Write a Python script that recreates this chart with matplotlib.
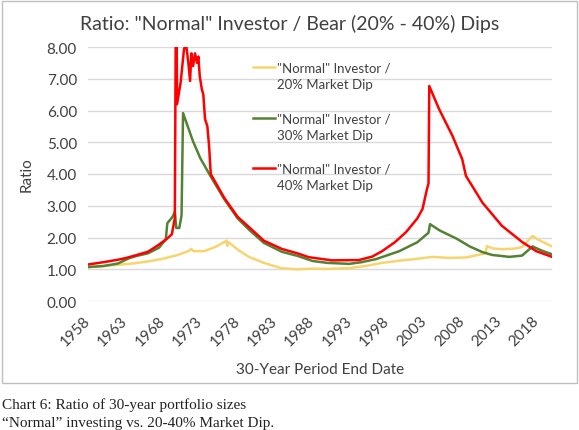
import numpy as np
import matplotlib.pyplot as plt
from matplotlib.patches import Rectangle
from matplotlib.legend_handler import HandlerLine2D

plt.rcParams['font.family'] = ['Lato', 'DejaVu Sans']

# 30-year period end dates (years) and ratios
yrs_20 = [1958.0, 1960, 1962, 1964, 1966.4, 1968, 1970, 1971.5, 1971.8, 1972.1, 1973.5, 1975,
          1976.4, 1976.5, 1976.6, 1976.8, 1978, 1979.5, 1981.5, 1983.9, 1986, 1988, 1990,
          1993, 1995, 1997.3, 2000, 2002, 2004, 2006, 2008.5, 2010.7, 2011.1, 2011.3, 2012,
          2013.3, 2015, 2016, 2017.4, 2018, 2019.9]
dip_20 = [1.07, 1.10, 1.14, 1.18, 1.26, 1.33, 1.45, 1.58, 1.64, 1.57, 1.57, 1.70,
          1.88, 1.90, 1.74, 1.85, 1.62, 1.39, 1.20, 1.03, 1.00, 1.02, 1.01,
          1.04, 1.10, 1.20, 1.28, 1.33, 1.39, 1.36, 1.37, 1.48, 1.50, 1.73, 1.66,
          1.63, 1.65, 1.70, 2.05, 1.95, 1.73]

yrs_30 = [1958.0, 1960, 1962, 1963.5, 1964.5, 1966, 1967.5, 1968.4, 1968.6, 1969.3, 1969.6,
          1969.8, 1970.2, 1970.5, 1970.7, 1972, 1973, 1974.4, 1976.2, 1978, 1979.5, 1981.5,
          1983.9, 1986, 1988, 1990, 1992.9, 1994.5, 1996.5, 1999.6, 2002, 2003.5, 2003.7,
          2005, 2007.2, 2009, 2010.7, 2012, 2014.3, 2016, 2017.4, 2018.5, 2019.9]
dip_30 = [1.07, 1.10, 1.18, 1.35, 1.42, 1.50, 1.68, 1.95, 2.45, 2.65, 2.80,
          2.30, 2.30, 2.70, 5.92, 5.05, 4.50, 3.92, 3.21, 2.60, 2.25, 1.83,
          1.55, 1.42, 1.26, 1.20, 1.17, 1.22, 1.32, 1.57, 1.85, 2.15, 2.42,
          2.22, 1.97, 1.72, 1.54, 1.45, 1.39, 1.43, 1.72, 1.60, 1.48]

yrs_40 = [1958.0, 1960, 1962, 1963, 1964.1, 1966, 1967.2, 1968.5, 1969.2, 1969.6, 1969.72,
          1969.85, 1969.9, 1970.39, 1970.83, 1971.1, 1971.41, 1971.64, 1971.81, 1972.04,
          1972.3, 1972.57, 1972.75, 1972.93, 1973.2, 1973.41, 1973.64, 1973.95, 1974.18,
          1974.4, 1976.2, 1978, 1979.5, 1981.5, 1983.9, 1986, 1987.5, 1990.6, 1994.2, 1996,
          1997.3, 1999, 2000.5, 2002, 2002.7, 2003.3, 2003.5, 2003.6, 2004.9, 2006.7, 2008.0,
          2008.5, 2010.7, 2013.3, 2016.0, 2017.9, 2019.9]
dip_40 = [1.15, 1.22, 1.30, 1.35, 1.42, 1.55, 1.73, 1.95, 2.10, 2.60, 8.30,
          8.30, 6.20, 6.90, 7.94, 8.10, 7.50, 6.93, 7.80, 7.40,
          7.80, 7.50, 7.70, 7.09, 6.68, 6.50, 5.73, 5.50, 4.88,
          4.00, 3.25, 2.65, 2.33, 1.90, 1.64, 1.50, 1.38, 1.28, 1.29, 1.40,
          1.57, 1.85, 2.17, 2.60, 2.90, 3.53, 3.70, 6.77, 6.05, 5.20, 4.47,
          3.94, 3.10, 2.37, 1.86, 1.57, 1.40]

tick_years = list(range(1958, 2019, 5))
labels = ['"Normal" Investor /\n20% Market Dip',
          '"Normal" Investor /\n30% Market Dip',
          '"Normal" Investor /\n40% Market Dip']


class TopLine(HandlerLine2D):
    # put the legend key level with the first line of a two-line label
    def create_artists(self, legend, orig_handle, xdescent, ydescent, width, height, fontsize, trans):
        arts = super().create_artists(legend, orig_handle, xdescent, ydescent, width, height,
                                      fontsize, trans)
        for a in arts:
            a.set_ydata(np.asarray(a.get_ydata()) + 0.68 * fontsize)
        return arts


fig = plt.figure(figsize=(5.79, 4.31), dpi=100)
ax = fig.add_axes([88 / 579, 1 - 302 / 431, 464 / 579, 254 / 431])

l1, = ax.plot(yrs_20, dip_20, color='#F7D56E', lw=1.8)
l2, = ax.plot(yrs_30, dip_30, color='#548235', lw=1.8)
l3, = ax.plot(yrs_40, dip_40, color='#FF0000', lw=1.8)

ax.set_xlim(1958, 2020)
ax.set_ylim(0, 8)
ax.set_yticks(range(0, 9))
ax.set_yticklabels(['%.2f' % v for v in range(0, 9)])
ax.set_xticks(tick_years)
ax.set_xticklabels([str(y) for y in tick_years], rotation=45, ha='right', va='center',
                   rotation_mode='anchor')
ax.tick_params(axis='both', length=0, labelsize=11, colors='#404040')
ax.tick_params(axis='x', pad=12)
ax.tick_params(axis='y', pad=8)
ax.grid(axis='y', color='#D9D9D9', lw=1)
ax.set_axisbelow(True)
for s in ax.spines.values():
    s.set_visible(False)

leg = ax.legend([l1, l2, l3], labels, loc='upper left', bbox_to_anchor=(0.33, 0.99),
                frameon=False, fontsize=9.5, handlelength=1.7, handletextpad=0.15,
                labelspacing=1.68, handler_map={plt.Line2D: TopLine()})
for t in leg.get_texts():
    t.set_linespacing(1.45)
    t.set_color('#404040')

fig.text(0.5, 1 - 24 / 431, 'Ratio: "Normal" Investor / Bear (20% - 40%) Dips', ha='center',
         va='center', fontsize=14, color='#404040')
fig.text(27 / 579, 1 - 175 / 431, 'Ratio', rotation=90, ha='center', va='center',
         fontsize=11, color='#404040')
fig.text(320 / 579, 1 - 370 / 431, '30-Year Period End Date', ha='center', va='center',
         fontsize=11, color='#404040')

fig.patches.append(Rectangle((2 / 579, 1 - 384 / 431), 575 / 579, 382 / 431, fill=False,
                             edgecolor='#BFBFBF', lw=1, transform=fig.transFigure))

fig.text(2 / 579, 1 - 405 / 431, 'Chart 6: Ratio of 30-year portfolio sizes',
         family=['Liberation Serif', 'DejaVu Serif'], fontsize=11, ha='left', va='center',
         color='#222222')
fig.text(2 / 579, 1 - 424 / 431, '\u201cNormal\u201d investing vs. 20-40% Market Dip.',
         family=['Liberation Serif', 'DejaVu Serif'], fontsize=11, ha='left', va='center',
         color='#222222')

fig.savefig('out.png', dpi=100)
